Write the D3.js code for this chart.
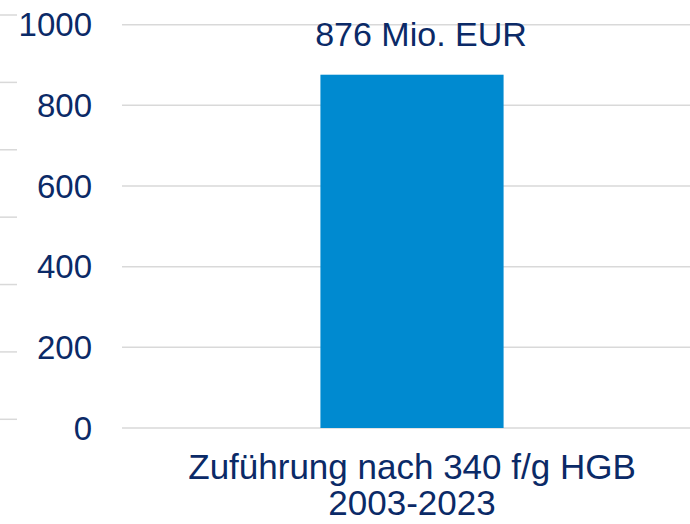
<!DOCTYPE html>
<html>
<head>
<meta charset="utf-8">
<script src="https://cdn.jsdelivr.net/npm/d3@7"></script>
<style>
  html, body { margin: 0; padding: 0; background: #ffffff; }
  svg { display: block; }
  text { font-family: "Liberation Sans", Arial, sans-serif; fill: #0b2a67; }
</style>
</head>
<body>
<svg id="chart" width="690" height="524"></svg>
<script>
// Data
const categories = ["Zuführung nach 340 f/g HGB\n2003-2023"];
const values = [876];
const valueLabels = ["876 Mio. EUR"];
const yTicks = [0, 200, 400, 600, 800, 1000];
const ghostTicks = [0, 1, 2, 3, 4, 5, 6];

const svg = d3.select("#chart");
const W = 690, H = 524;

const y = d3.scaleLinear().domain([0, 1000]).range([428, 24.7]);
const x = d3.scaleBand().domain(categories).range([122, 702]).padding(0.52);
const ghostY = d3.scaleLinear().domain([0, 6]).range([419.3, 15]);

// ghost gridline stubs at the left edge
svg.append("g").selectAll("line").data(ghostTicks).join("line")
  .attr("x1", 0).attr("x2", 17)
  .attr("y1", d => ghostY(d)).attr("y2", d => ghostY(d))
  .attr("stroke", "#d9d9d9").attr("stroke-width", 1.5);

// gridlines
svg.append("g").selectAll("line").data(yTicks).join("line")
  .attr("x1", 122).attr("x2", W)
  .attr("y1", d => y(d)).attr("y2", d => y(d))
  .attr("stroke", "#d9d9d9").attr("stroke-width", 1.5);

// y-axis labels
svg.append("g").selectAll("text").data(yTicks).join("text")
  .attr("x", 92).attr("y", d => y(d)).attr("dy", "0.35em")
  .attr("text-anchor", "end")
  .style("font-size", "33px")
  .text(d => d);

// bar
svg.append("g").selectAll("rect").data(values).join("rect")
  .attr("x", (d, i) => x(categories[i]))
  .attr("width", x.bandwidth())
  .attr("y", d => y(d))
  .attr("height", d => y(0) - y(d))
  .attr("fill", "#008ad0");

// value label
svg.append("g").selectAll("text").data(values).join("text")
  .attr("x", (d, i) => x(categories[i]) + x.bandwidth() / 2 + 9)
  .attr("y", d => y(d) - 29)
  .attr("text-anchor", "middle")
  .style("font-size", "34px")
  .text((d, i) => valueLabels[i]);

// category label
const cat = svg.append("g").selectAll("text").data(categories).join("text")
  .attr("text-anchor", "middle")
  .style("font-size", "35px");
cat.each(function(d) {
  const t = d3.select(this);
  const cx = x(d) + x.bandwidth() / 2;
  d.split("\n").forEach((line, j) => {
    t.append("tspan").attr("x", cx).attr("y", 479 + j * 36).text(line);
  });
});
</script>
</body>
</html>
